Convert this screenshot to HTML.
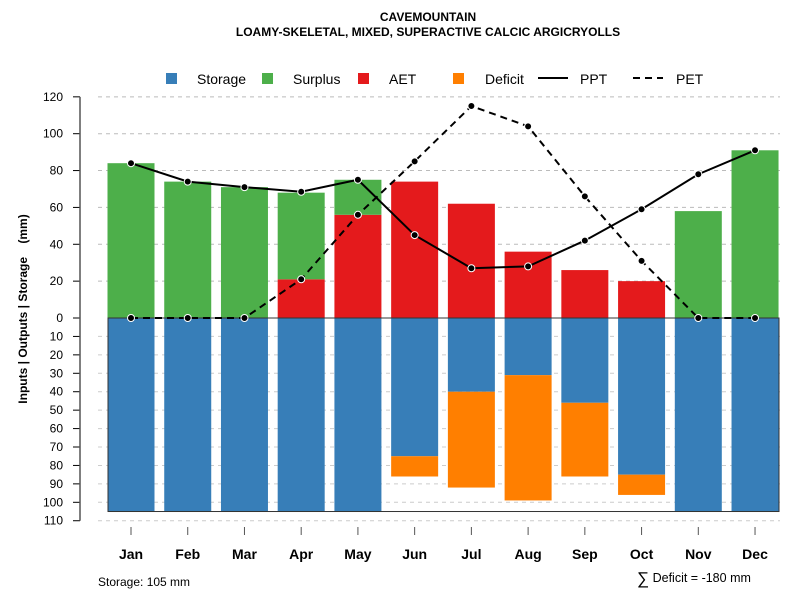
<!DOCTYPE html>
<html><head><meta charset="utf-8"><style>
body{margin:0;background:#fff}
svg{font-family:"Liberation Sans",sans-serif}
</style></head><body>
<svg id="c" width="800" height="600" xmlns="http://www.w3.org/2000/svg">
<text x="428" y="21" font-size="12" font-weight="bold" text-anchor="middle">CAVEMOUNTAIN</text>
<text x="428" y="36" font-size="12" font-weight="bold" text-anchor="middle">LOAMY-SKELETAL, MIXED, SUPERACTIVE CALCIC ARGICRYOLLS</text>
<g id="legend" font-size="14">
<g><rect x="166" y="73" width="11" height="11" fill="#377eb8"/><text x="197" y="84">Storage</text></g>
<g><rect x="262" y="73" width="11" height="11" fill="#4daf4a"/><text x="293" y="84">Surplus</text></g>
<g><rect x="358" y="73" width="11" height="11" fill="#e41a1c"/><text x="389" y="84">AET</text></g>
<g><rect x="453" y="73" width="11" height="11" fill="#ff7f00"/><text x="485" y="84">Deficit</text></g>
<g><line x1="538" y1="78" x2="568" y2="78" stroke="#000" stroke-width="2"/><text x="580" y="84">PPT</text></g>
<g><line x1="633" y1="78" x2="663" y2="78" stroke="#000" stroke-width="2" stroke-dasharray="7,5"/><text x="676" y="84">PET</text></g>
</g>
<text transform="translate(27,309) rotate(-90)" font-size="12" font-weight="bold" text-anchor="middle" xml:space="preserve">Inputs | Outputs | Storage    (mm)</text>
<g id="grid"></g><g id="bars"></g><g id="lines"></g><g id="axes"></g>
<text x="98" y="586" font-size="12">Storage: 105 mm</text>
<text x="637" y="584" font-size="17">∑<tspan font-size="12.5" dy="-2"> Deficit = -180 mm</tspan></text>
</svg>
<script>
const months=["Jan","Feb","Mar","Apr","May","Jun","Jul","Aug","Sep","Oct","Nov","Dec"];
const aet=[0,0,0,21,56,74,62,36,26,20,0,0];
const surplus=[84,74,71,47,19,0,0,0,0,0,58,91];
const storage=[105,105,105,105,105,75,40,31,46,85,105,105];
const deficit=[0,0,0,0,0,11,52,68,40,11,0,0];
const ppt=[84,74,71,68.5,75,45,27,28,42,59,78,91];
const pet=[0,0,0,21,56,85,115,104,66,31,0,0];
const upTicks=[0,20,40,60,80,100,120];
const downTicks=[10,20,30,40,50,60,70,80,90,100,110];
const NS="http://www.w3.org/2000/svg";
const y0=318,k=1.843,bw=47;
const yUp=v=>y0-v*k, yDn=v=>y0+v*k, xC=i=>131+i*56.73;
function mk(p,t,a){const e=document.createElementNS(NS,t);for(const n in a)e.setAttribute(n,a[n]);document.getElementById(p).appendChild(e);return e;}
upTicks.forEach(v=>{if(v>0){const g=mk("grid","line",{x1:98,x2:780,y1:yUp(v),y2:yUp(v),stroke:"#bbb","stroke-dasharray":"4,4"});

}
const t=mk("axes","line",{x1:73,x2:80,y1:yUp(v),y2:yUp(v),stroke:"#000"});
const l=mk("axes","text",{x:63,y:yUp(v)+4,"font-size":12,"text-anchor":"end"});l.textContent=v;

});
downTicks.forEach(v=>{const g=mk("grid","line",{x1:98,x2:780,y1:yDn(v),y2:yDn(v),stroke:"#ccc","stroke-dasharray":"4,4"});


mk("axes","line",{x1:73,x2:80,y1:yDn(v),y2:yDn(v),stroke:"#000"});
const l=mk("axes","text",{x:63,y:yDn(v)+4,"font-size":12,"text-anchor":"end"});l.textContent=v;

});
mk("axes","line",{x1:80,x2:80,y1:yUp(120),y2:yDn(110),stroke:"#555","stroke-width":1.5});
months.forEach((m,i)=>{const x=xC(i)-bw/2;
if(aet[i]>0){const r=mk("bars","rect",{x,y:yUp(aet[i]),width:bw,height:aet[i]*k,fill:"#e41a1c"});

}
if(surplus[i]>0){const r=mk("bars","rect",{x,y:yUp(aet[i]+surplus[i]),width:bw,height:surplus[i]*k,fill:"#4daf4a"});

}
const s=mk("bars","rect",{x,y:y0,width:bw,height:storage[i]*k,fill:"#377eb8"});


if(deficit[i]>0){const r=mk("bars","rect",{x,y:yDn(storage[i]),width:bw,height:deficit[i]*k,fill:"#ff7f00"});

}
mk("axes","line",{x1:xC(i),x2:xC(i),y1:527,y2:535,stroke:"#555"});
const l=mk("axes","text",{x:xC(i),y:559,"font-size":14,"font-weight":"bold","text-anchor":"middle"});l.textContent=m;

});
mk("bars","rect",{x:108,y:y0,width:671,height:105*k,fill:"none",stroke:"#333"});
function series(arr,dash,name){const pts=arr.map((v,i)=>xC(i)+","+yUp(v)).join(" ");
const p=mk("lines","polyline",{points:pts,fill:"none",stroke:"#000","stroke-width":2,"stroke-dasharray":dash});


arr.forEach((v,i)=>{const c=mk("lines","circle",{cx:xC(i),cy:yUp(v),r:3.5,fill:"#000",stroke:"#fff","stroke-width":1});

});}
series(pet,"7,5","pet");series(ppt,"none","ppt");
</script>
</body></html>
